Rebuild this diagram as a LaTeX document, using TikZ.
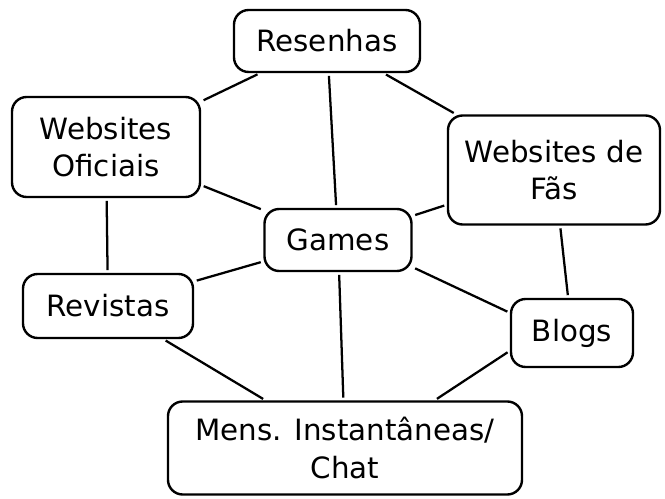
\documentclass[tikz,border=0pt]{standalone}
\usepackage{fontspec}
\setmainfont{DejaVu Sans}
\begin{document}
\begin{tikzpicture}[x=0.75pt,y=-0.75pt,
  box/.style={draw, line width=1.8pt, rounded corners=11pt, inner sep=0pt, align=center,
    font=\fontsize{22}{28}\selectfont},
  link/.style={line width=1.7pt, shorten >=2pt, shorten <=2pt}]
\useasboundingbox (0,0) rectangle (665,499);
\node[box, minimum width=139.5pt, minimum height=46.5pt] (res) at (327,41) {Resenhas};
\node[box, minimum width=141pt, minimum height=75pt] (ofi) at (106,147) {Websites\\Oficiais};
\node[box, minimum width=159pt, minimum height=81.75pt] (fas) at (554,170) {Websites de\\Fãs};
\node[box, minimum width=110.25pt, minimum height=46.5pt] (gam) at (338,240) {Games};
\node[box, minimum width=127.5pt, minimum height=48pt] (rev) at (108,306) {Revistas};
\node[box, minimum width=91.5pt, minimum height=51pt] (blo) at (572,333) {Blogs};
\node[box, minimum width=265.5pt, minimum height=69.75pt] (men) at (345,448) {Mens. Instantâneas/\\Chat};
\draw[link] (res) -- (ofi);
\draw[link] (res) -- (gam);
\draw[link] (res) -- (fas);
\draw[link] (ofi) -- (gam);
\draw[link] (ofi) -- (rev);
\draw[link] (fas) -- (gam);
\draw[link] (fas) -- (blo);
\draw[link] (gam) -- (rev);
\draw[link] (gam.-20) -- (blo.162);
\draw[link] (gam) -- (men);
\draw[link] (rev) -- (men);
\draw[link] (blo.196) -- (men.28);
\end{tikzpicture}
\end{document}
